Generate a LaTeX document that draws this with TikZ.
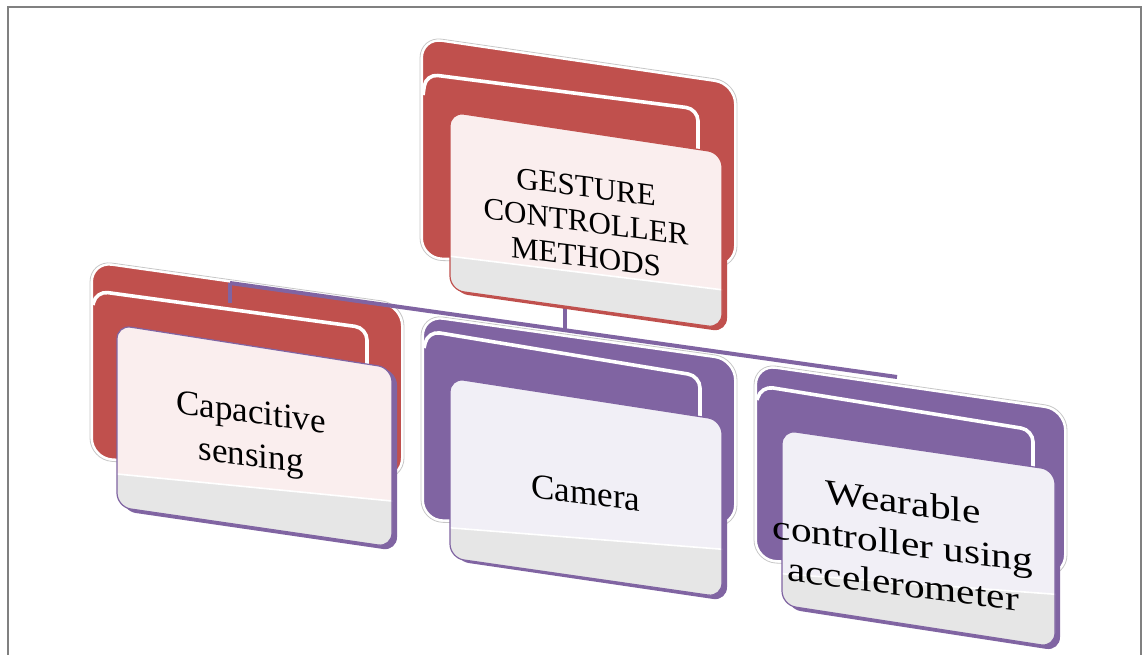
\documentclass[tikz,border=0pt]{standalone}
\usepackage{fontspec}
\setmainfont{Liberation Serif}
\definecolor{cred}{HTML}{C0504D}
\definecolor{cpur}{HTML}{8064A2}
\definecolor{fred}{HTML}{FAEEEE}
\definecolor{fpur}{HTML}{F1EFF6}
\definecolor{bandc}{HTML}{E6E6E6}
\definecolor{framec}{HTML}{808080}
\tikzset{
  glowline/.style={draw=black!22, line width=0.4pt, rounded corners=11pt},
  backcard/.style={fill=#1, draw=white, line width=1pt, rounded corners=10pt},
  innerline/.style={draw=white, line width=1.8pt, rounded corners=6pt},
  edge3d/.style={fill=#1, rounded corners=7pt},
  facecard/.style={fill=#1, rounded corners=7pt},
  faceborder/.style={draw=#1, line width=0.6pt, rounded corners=7pt},
  bandfill/.style={fill=bandc},
  bandhl/.style={draw=white, line width=0.8pt},
  link/.style={draw=cpur, line width=2pt},
  lbl/.style={align=center, yslant=-0.13, text=black, inner sep=0pt},
  framebox/.style={draw=framec, line width=1.3pt}
}
\begin{document}
\begin{tikzpicture}[x=0.5pt, y=-0.5pt]
\useasboundingbox (0,0) rectangle (1143,654);
\fill[white] (0,0) rectangle (1143,654);
\draw[framebox] (8,656) -- (8,7) -- (1141,7) -- (1141,656);

% ---------- back cards ----------
% top
\draw[glowline] (420,36) -- (737,82) -- (737,268) -- (420,260) -- cycle;
\path[backcard=cred] (422,38) -- (735,84) -- (735,266) -- (422,258) -- cycle;
\draw[innerline] (423,95) -- (426,74) -- (698,109) -- (698,180);
% capacitive
\draw[glowline] (90,260) -- (404,304) -- (404,480) -- (90,460) -- cycle;
\path[backcard=cred] (92,262) -- (402,306) -- (402,478) -- (92,458) -- cycle;
\draw[innerline] (93,305) -- (96,291) -- (367,328) -- (367,380);
% camera
\draw[glowline] (421,314) -- (737,358) -- (737,527) -- (421,522) -- cycle;
\path[backcard=cpur] (423,316) -- (735,360) -- (735,525) -- (423,520) -- cycle;
\draw[innerline] (424,348) -- (428,331) -- (700,376) -- (700,420);
% wearable
\draw[glowline] (754,363) -- (1067,408) -- (1067,577) -- (754,562) -- cycle;
\path[backcard=cpur] (756,365) -- (1065,410) -- (1065,575) -- (756,560) -- cycle;
\draw[innerline] (757,400) -- (761,386) -- (1033,430) -- (1033,470);

% ---------- connectors ----------
\coordinate (j1) at (230,283);
\coordinate (j3) at (897,377);
\coordinate (jm) at (565,330);
\coordinate (b0) at (565,300);
\coordinate (c1) at (230,303);
\draw[link] (j1) -- (j3);
\draw[link] (b0) -- (jm);
\draw[link] (j1) -- (c1);

% ---------- front cards ----------
% top
\path[edge3d=cred] (454,115) -- (727,156) -- (727,332) -- (454,293) -- cycle;
\begin{scope}
\clip[rounded corners=7pt] (450,112) -- (722,153) -- (722,328) -- (450,290) -- cycle;
\path[facecard=fred] (450,112) -- (722,153) -- (722,328) -- (450,290) -- cycle;
\path[bandfill] (440,255) -- (732,291) -- (732,340) -- (440,340) -- cycle;
\draw[bandhl] (440,255) -- (732,291);
\end{scope}
\path[faceborder=cred] (450,112) -- (722,153) -- (722,328) -- (450,290) -- cycle;
% capacitive
\path[edge3d=cpur] (122,328) -- (397,371) -- (397,551) -- (122,511) -- cycle;
\begin{scope}
\clip[rounded corners=7pt] (117,325) -- (392,368) -- (392,547) -- (117,507) -- cycle;
\path[facecard=fred] (117,325) -- (392,368) -- (392,547) -- (117,507) -- cycle;
\path[bandfill] (107,473) -- (402,502) -- (402,560) -- (107,560) -- cycle;
\draw[bandhl] (107,473) -- (402,502);
\end{scope}
\path[faceborder=cpur] (117,325) -- (392,368) -- (392,547) -- (117,507) -- cycle;
% camera
\path[edge3d=cpur] (455,381) -- (727,423) -- (727,601) -- (455,561) -- cycle;
\begin{scope}
\clip[rounded corners=7pt] (450,378) -- (722,420) -- (722,597) -- (450,558) -- cycle;
\path[facecard=fpur] (450,378) -- (722,420) -- (722,597) -- (450,558) -- cycle;
\path[bandfill] (440,527) -- (732,550) -- (732,610) -- (440,610) -- cycle;
\draw[bandhl] (440,527) -- (732,550);
\end{scope}
\path[faceborder=cpur] (450,378) -- (722,420) -- (722,597) -- (450,558) -- cycle;
% wearable
\path[edge3d=cpur] (787,433) -- (1060,473) -- (1060,651) -- (787,609) -- cycle;
\begin{scope}
\clip[rounded corners=7pt] (782,430) -- (1055,470) -- (1055,647) -- (782,605) -- cycle;
\path[facecard=fpur] (782,430) -- (1055,470) -- (1055,647) -- (782,605) -- cycle;
\path[bandfill] (772,573) -- (1065,595) -- (1065,660) -- (772,660) -- cycle;
\draw[bandhl] (772,573) -- (1065,595);
\end{scope}
\path[faceborder=cpur] (782,430) -- (1055,470) -- (1055,647) -- (782,605) -- cycle;

% ---------- labels ----------
\node[lbl, font=\fontsize{15.5}{17.5}\selectfont] (n0) at (586,222) {GESTURE\\CONTROLLER\\METHODS};
\node[lbl, font=\fontsize{17.5}{21.5}\selectfont] (n1) at (251,437) {Capacitive\\sensing};
\node[lbl, font=\fontsize{17.5}{20}\selectfont] (n2) at (586,493) {Camera};
\node[lbl, xscale=1.18, font=\fontsize{17.5}{20.5}\selectfont] (n3) at (903,543) {Wearable\\controller using\\accelerometer};
\end{tikzpicture}
\end{document}
